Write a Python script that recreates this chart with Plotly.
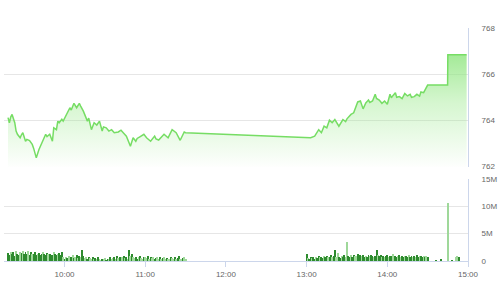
import pandas as pd
import plotly.graph_objects as go

DAY = "2024-01-02 "

# ---- price (index) line ----
price_times = [
    "09:18", "09:19", "09:20", "09:21", "09:23", "09:24", "09:25", "09:27", "09:28", "09:29",
    "09:31", "09:32", "09:34", "09:36", "09:37", "09:39", "09:41", "09:44", "09:46", "09:47",
    "09:49", "09:51", "09:52", "09:54", "09:55", "09:56", "09:58", "09:59",
    "10:01", "10:02", "10:04", "10:05", "10:07", "10:09", "10:11", "10:12", "10:14", "10:17",
    "10:18", "10:20", "10:22", "10:24", "10:26", "10:28", "10:29", "10:31", "10:33", "10:35",
    "10:37", "10:40", "10:42", "10:44", "10:46", "10:49", "10:51", "10:53", "10:54", "10:56",
    "10:59", "11:01", "11:04", "11:07", "11:08", "11:10", "11:12", "11:14", "11:17", "11:18",
    "11:20", "11:23", "11:26", "11:29", "11:30",
    "13:03", "13:06", "13:09", "13:11", "13:13", "13:15", "13:17", "13:19", "13:21", "13:24",
    "13:27", "13:29", "13:30", "13:33", "13:35", "13:38", "13:40", "13:42", "13:44", "13:46",
    "13:47", "13:49", "13:51", "13:52", "13:54", "13:56", "13:58", "14:00", "14:02", "14:03",
    "14:04", "14:06", "14:07", "14:09", "14:11", "14:13", "14:15", "14:17", "14:18", "14:20",
    "14:22", "14:24", "14:25", "14:27", "14:30", "14:44:50", "14:45", "14:59",
]
price_values = [
    764.12, 763.90, 764.15, 764.26, 763.90, 763.54, 763.40, 763.25, 763.38, 763.47,
    763.10, 763.18, 763.13, 762.96, 762.80, 762.38, 762.74, 763.10, 763.40, 763.30,
    763.40, 763.10, 763.68, 763.60, 763.97, 763.90, 764.05, 763.97,
    764.18, 764.30, 764.55, 764.45, 764.74, 764.55, 764.74, 764.62, 764.40, 763.97,
    764.10, 763.60, 763.90, 763.80, 763.97, 763.54, 763.72, 763.68, 763.54, 763.60,
    763.47, 763.50, 763.58, 763.45, 763.32, 762.88, 763.25, 763.10, 763.22, 763.29,
    763.40, 763.25, 763.10, 763.32, 763.20, 763.15, 763.30, 763.40, 763.25, 763.35,
    763.60, 763.47, 763.14, 763.50, 763.47,
    763.25, 763.32, 763.60, 763.47, 763.75, 763.68, 764.01, 763.90, 764.04, 763.75,
    764.04, 763.95, 764.07, 764.26, 764.33, 764.80, 764.84, 764.50, 764.76, 764.88,
    764.78, 764.84, 765.13, 764.95, 764.88, 764.74, 764.84, 764.70, 765.13, 764.98,
    765.06, 765.20, 765.00, 765.03, 764.94, 765.17, 765.06, 765.13, 765.00, 765.03,
    765.13, 765.05, 765.23, 765.20, 765.53, 765.53, 766.84, 766.84,
]

# ---- volume (millions), one bar per minute ----
vol_am_start = "09:18"
vol_am = [
    1.5, 1.1, 1.7, 1.3, 1.6, 1.0, 1.8, 1.4, 1.2, 1.7,
    1.5, 1.8, 1.3, 1.7, 1.4, 1.9, 1.2, 1.6, 1.4, 1.3,
    1.6, 1.2, 1.4, 1.5, 1.1, 1.3, 1.7, 1.4, 1.2, 1.5,
    1.3, 1.4, 1.0, 1.2, 1.6, 1.3, 1.1, 1.4, 1.5, 1.2,
    1.7, 0.7, 0.5, 0.8, 0.6, 0.9, 0.5, 0.7, 1.1, 0.6,
    0.8, 1.2, 0.6, 0.9, 0.7, 2.0, 0.9, 0.6, 0.8, 0.5,
    0.7, 0.6, 0.5, 0.8, 0.4, 0.6, 0.5, 0.7, 0.4, 0.3,
    0.5, 0.4, 0.6, 0.3, 0.5, 0.4, 0.7, 0.5, 0.6, 0.8,
    0.5, 0.9, 0.6, 0.7, 0.5, 0.8, 1.0, 0.6, 0.7, 0.5,
    2.0, 0.9, 1.3, 0.7, 0.6, 0.8, 0.5, 0.7, 0.9, 0.6,
    0.5, 0.8, 0.7, 0.6, 0.9, 0.5, 0.7, 0.6, 0.8, 0.5,
    0.6, 0.7, 0.5, 0.8, 0.4, 0.6, 0.7, 0.5, 0.6, 0.4,
    0.5, 0.7, 0.6, 0.4, 0.8, 0.5, 0.6, 0.9, 0.5, 0.4,
    0.6, 0.8, 0.5,
]
side_am = (
    "DDLDDDLDDL" "DLDDDLDDLD" "DDLDDDLDDD" "LDDDLDDLDD" "DLDLDLLDLD"
    "LDLDLDDLLD" "DLLDLDLDLL" "DLLDDLDLLD" "LDLDDLDLDL" "DLDLLDDLDL"
    "LDLLDLDLLD" "DLLDLDLLDL" "LDLLDLDDLL" "DLL"
)
vol_pm_start = "13:00"
vol_pm = [
    1.4, 0.6, 0.5, 0.7, 0.6, 0.8, 0.5, 0.7, 0.6, 0.9,
    0.7, 0.8, 0.6, 1.0, 0.7, 0.9, 0.8, 0.7, 1.1, 0.8,
    0.9, 2.1, 0.8, 1.5, 0.7, 0.6, 0.9, 0.8, 1.2, 0.7,
    3.6, 0.9, 0.7, 1.1, 0.8, 1.2, 0.9, 1.0, 1.3, 0.8,
    1.1, 0.9, 1.2, 0.8, 1.0, 0.7, 1.1, 0.9, 1.2, 1.0,
    0.8, 1.0, 2.0, 1.1, 0.9, 1.2, 0.8, 1.0, 0.7, 0.9,
    1.1, 0.8, 1.0, 0.9, 1.3, 0.8, 1.0, 0.7, 0.9, 1.1,
    0.8, 1.0, 0.7, 0.9, 1.0, 0.8, 1.1, 0.7, 0.9, 0.8,
    1.0, 0.8, 1.1, 0.7, 0.9, 1.0, 0.8, 0.9, 0.7, 1.0,
    0.8,
]
side_pm = (
    "DLDDLDDLDD" "LDDLDDLDDL" "DDLLDDLDDL" "LDDLDDLLDD" "DLDDLDDLDD"
    "LDDLDDLDLD" "DLDDLLDDLD" "LDDLDDLDDL" "DLDDLDDLDL" "D"
)
vol_late_times = ["14:36", "14:40", "14:45", "14:48", "14:51", "14:52", "14:53"]
vol_late = [0.3, 0.4, 10.6, 0.3, 0.7, 1.0, 0.8]
side_late = "DDLDLLD"

x_ticks = ["10:00", "11:00", "12:00", "13:00", "14:00", "15:00"]
price_ticks = [762, 764, 766, 768]
vol_ticks = [0, 5, 10, 15]
vol_tick_text = ["0", "5M", "10M", "15M"]

# ---- build ----
def ts(s):
    return pd.Timestamp(DAY + s)

px = [ts(t) for t in price_times]
am_t = list(pd.date_range(ts(vol_am_start), periods=len(vol_am), freq="1min"))
pm_t = list(pd.date_range(ts(vol_pm_start), periods=len(vol_pm), freq="1min"))
vt = am_t + pm_t + [ts(t) for t in vol_late_times]
vv = vol_am + vol_pm + vol_late
sides = (side_am + side_pm + side_late).ljust(len(vv), "D")
DARK, LIGHT = "#2e8b2e", "#9fd89a"
vcol = [DARK if s == "D" else LIGHT for s in sides[:len(vv)]]

GRID = "#e6e6e6"
LINE = "#ccd6eb"
TXT = "#666666"
FONT = "Liberation Sans, Arial, sans-serif"

fig = go.Figure()
fig.add_trace(go.Scatter(
    x=px, y=price_values, mode="lines",
    line=dict(color="#76dd64", width=1.5),
    fill="tozeroy",
    fillgradient=dict(type="vertical", start=762, stop=767.5,
                      colorscale=[[0, "rgba(150,232,135,0.02)"],
                                  [0.5, "rgba(150,232,135,0.4)"],
                                  [1, "rgba(140,228,125,0.95)"]]),
    xaxis="x", yaxis="y", hoverinfo="skip",
))
fig.add_trace(go.Bar(
    x=vt, y=vv, marker=dict(color=vcol, line=dict(width=0)),
    width=42000, xaxis="x2", yaxis="y2", hoverinfo="skip",
))

xr = [ts("09:15"), ts("15:00")]
tickv = [ts(t) for t in x_ticks]
fig.update_layout(
    width=501, height=300,
    margin=dict(l=4, r=30, t=28, b=39),
    paper_bgcolor="white", plot_bgcolor="white",
    showlegend=False, bargap=0,
    font=dict(family=FONT, size=8, color=TXT),
    xaxis=dict(domain=[0, 1], range=xr, anchor="y", showticklabels=False,
               showgrid=False, zeroline=False, showline=False, ticks=""),
    yaxis=dict(domain=[0.405, 1], range=[762, 768], side="right", anchor="x",
               tickvals=price_ticks, gridcolor=GRID, gridwidth=1,
               showline=True, linecolor=LINE, linewidth=1, zeroline=False,
               ticks="", ticklabelstandoff=11,
               tickfont=dict(size=8, color=TXT, family=FONT)),
    xaxis2=dict(domain=[0, 1], range=xr, anchor="y2", tickvals=tickv,
                tickformat="%H:%M", showgrid=False, zeroline=False,
                showline=True, linecolor=LINE, linewidth=1,
                ticks="outside", ticklen=5, tickcolor=LINE,
                tickfont=dict(size=8, color=TXT, family=FONT)),
    yaxis2=dict(domain=[0, 0.353], range=[0, 15], side="right", anchor="x2",
                tickvals=vol_ticks, ticktext=vol_tick_text,
                gridcolor=GRID, gridwidth=1, showline=True, linecolor=LINE,
                linewidth=1, zeroline=False, ticks="", ticklabelstandoff=11,
                tickfont=dict(size=8, color=TXT, family=FONT)),
)

fig.write_html("out.html")
